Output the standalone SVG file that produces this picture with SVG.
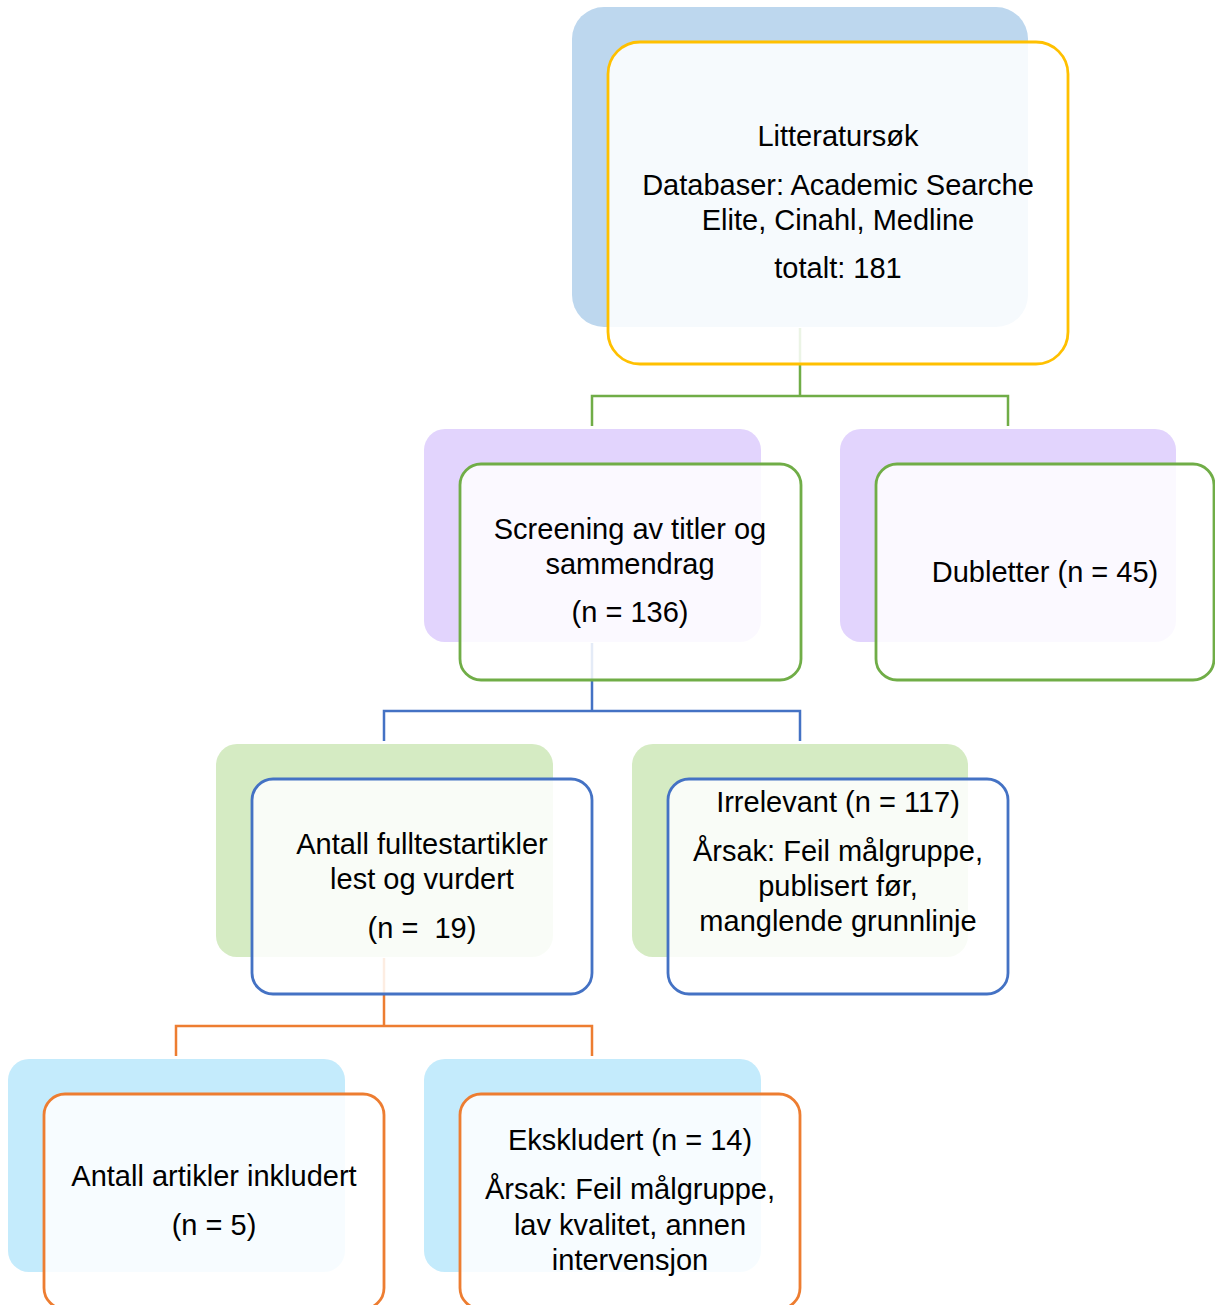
<svg xmlns="http://www.w3.org/2000/svg" width="1215" height="1305" viewBox="0 0 1215 1305">
<style>
text{font-family:"Liberation Sans",Arial,sans-serif;font-size:29px;fill:#000;text-anchor:middle}
.conn{fill:none;stroke-width:2.5}
.front{fill:#fff;fill-opacity:0.86;stroke-width:2.8}
.b-blue{fill:#BDD7EE}
.b-purple{fill:#E2D4FD}
.b-green{fill:#D5EBC3}
.b-cyan{fill:#C4EBFC}
</style>
<g id="connectors">
<path class="conn" stroke="#70AD47" d="M800,328 V396 M592,426 V396 H1008 V426"/>
<path class="conn" stroke="#4472C4" d="M592,643 V711 M384,741 V711 H800 V741"/>
<path class="conn" stroke="#ED7D31" d="M384,958 V1026 M176,1056 V1026 H592 V1056"/>
</g>
<g id="n-litteratursok">
<rect class="b-blue" x="572" y="7" width="456" height="320" rx="32"/>
<rect class="front" stroke="#FFC000" x="608" y="42" width="460" height="322" rx="32"/>
<text x="838" y="146">Litteratursøk</text>
<text x="838" y="195">Databaser: Academic Searche</text>
<text x="838" y="230">Elite, Cinahl, Medline</text>
<text x="838" y="278">totalt: 181</text>
</g>
<g id="n-screening">
<rect class="b-purple" x="424" y="429" width="337" height="213" rx="21"/>
<rect class="front" stroke="#70AD47" x="460" y="464" width="341" height="216" rx="21"/>
<text x="630" y="539">Screening av titler og</text>
<text x="630" y="574">sammendrag</text>
<text x="630" y="622">(n = 136)</text>
</g>
<g id="n-dubletter">
<rect class="b-purple" x="840" y="429" width="336" height="213" rx="21"/>
<rect class="front" stroke="#70AD47" x="876" y="464" width="338" height="216" rx="21"/>
<text x="1045" y="582">Dubletter (n = 45)</text>
</g>
<g id="n-fulltekst">
<rect class="b-green" x="216" y="744" width="337" height="213" rx="21"/>
<rect class="front" stroke="#4472C4" x="252" y="779" width="340" height="215" rx="21"/>
<text x="422" y="854">Antall fulltestartikler</text>
<text x="422" y="889">lest og vurdert</text>
<text x="422" y="938" xml:space="preserve">(n =  19)</text>
</g>
<g id="n-irrelevant">
<rect class="b-green" x="632" y="744" width="336" height="213" rx="21"/>
<rect class="front" stroke="#4472C4" x="668" y="779" width="340" height="215" rx="21"/>
<text x="838" y="812">Irrelevant (n = 117)</text>
<text x="838" y="861">Årsak: Feil målgruppe,</text>
<text x="838" y="896">publisert før,</text>
<text x="838" y="931">manglende grunnlinje</text>
</g>
<g id="n-inkludert">
<rect class="b-cyan" x="8" y="1059" width="337" height="213" rx="21"/>
<rect class="front" stroke="#ED7D31" x="44" y="1094" width="340" height="215" rx="21"/>
<text x="214" y="1186">Antall artikler inkludert</text>
<text x="214" y="1235">(n = 5)</text>
</g>
<g id="n-ekskludert">
<rect class="b-cyan" x="424" y="1059" width="337" height="213" rx="21"/>
<rect class="front" stroke="#ED7D31" x="460" y="1094" width="340" height="215" rx="21"/>
<text x="630" y="1150">Ekskludert (n = 14)</text>
<text x="630" y="1199">Årsak: Feil målgruppe,</text>
<text x="630" y="1235">lav kvalitet, annen</text>
<text x="630" y="1270">intervensjon</text>
</g>
</svg>
